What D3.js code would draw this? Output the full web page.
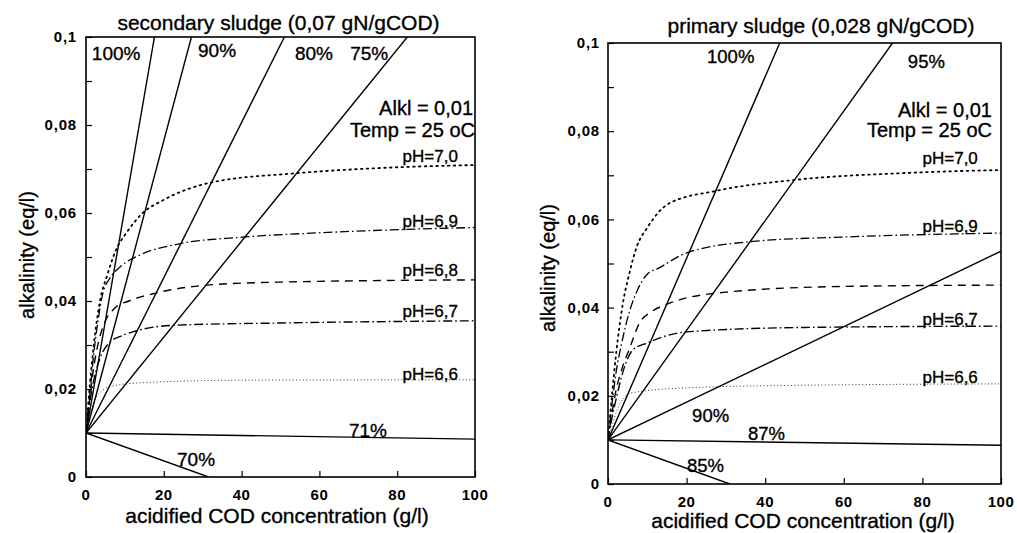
<!DOCTYPE html>
<html>
<head>
<meta charset="utf-8">
<script src="https://cdn.jsdelivr.net/npm/d3@7"></script>
<style>
  html, body { margin: 0; padding: 0; background: #fff; }
  svg text { font-family: "Liberation Sans", Arial, Helvetica, sans-serif; fill: #000; stroke: #000; stroke-width: 0.35px; }
  svg text.tick { stroke-width: 0; }
</style>
</head>
<body>
<svg id="chart" width="1017" height="533"></svg>
<script>
// ---------------- DATA ----------------
const xTicks = [0, 20, 40, 60, 80, 100];
const yTicksMajor = [0, 0.02, 0.04, 0.06, 0.08, 0.1];
const yTicksMinor = [0.01, 0.03, 0.05, 0.07, 0.09];
const yTickLabels = ["0", "0,02", "0,04", "0,06", "0,08", "0,1"];
const xTickLabels = ["0", "20", "40", "60", "80", "100"];

const titles = ["secondary sludge (0,07 gN/gCOD)", "primary sludge (0,028 gN/gCOD)"];
const xTitle = "acidified COD concentration (g/l)";
const yTitle = "alkalinity (eq/l)";
const infoLines = ["Alkl = 0,01", "Temp = 25 oC"];

// conversion lines (secondary sludge)
const secLineNames = ["100%", "90%", "80%", "75%", "71%", "70%"];
const secLineEnds = [[17.6, 0.1], [27.1, 0.1], [51, 0.1], [82.6, 0.1], [100, 0.0086], [31.5, 0]];
// conversion lines (primary sludge)
const priLineNames = ["100%", "95%", "90%", "87%", "85%"];
const priLineEnds = [[43.7, 0.1], [72.4, 0.1], [100, 0.0528], [100, 0.0088], [31, 0]];
const lineStart = [0, 0.01];

// pH curves
const pHNames = ["pH=7,0", "pH=6,9", "pH=6,8", "pH=6,7", "pH=6,6"];
const secPH70 = [[0,0.01],[1,0.021],[2,0.030],[3.6,0.040],[5.5,0.046],[7.9,0.052],[10,0.055],[14.6,0.060],[20,0.063],[32.5,0.067],[53.5,0.069],[75,0.0702],[100,0.0709]];
const secPH69 = [[0,0.01],[1,0.019],[2,0.028],[3,0.035],[4.4,0.042],[6,0.045],[8.7,0.0477],[14,0.0505],[24,0.053],[40,0.0545],[60,0.0555],[91,0.0565],[100,0.0567]];
const secPH68 = [[0,0.01],[1,0.018],[2,0.025],[3.6,0.032],[5,0.0355],[7.4,0.0384],[11,0.040],[17,0.0416],[31,0.0436],[50,0.0443],[100,0.0448]];
const secPH67 = [[0,0.01],[1,0.017],[2,0.022],[3.6,0.027],[6,0.0305],[9,0.032],[12,0.033],[23,0.0345],[50,0.035],[100,0.0355]];
const secPH66 = [[0,0.01],[1,0.014],[2,0.017],[4,0.0195],[6,0.0205],[14,0.0214],[40,0.022],[100,0.0221]];

const priPH70 = [[0,0.01],[1,0.02],[2,0.029],[3.8,0.041],[5.5,0.048],[7.4,0.054],[9.9,0.058],[15.7,0.0637],[27.7,0.0665],[48,0.069],[75,0.0705],[100,0.0712]];
const priPH69 = [[0,0.01],[1,0.018],[2,0.025],[3.5,0.032],[5.6,0.0395],[7.5,0.044],[9.9,0.0475],[13,0.049],[20,0.0524],[36.8,0.055],[60,0.056],[100,0.0569]];
const priPH68 = [[0,0.01],[1,0.016],[2,0.021],[3.5,0.026],[5.6,0.031],[8,0.0365],[11,0.039],[15.7,0.041],[30,0.0435],[60,0.0448],[100,0.0451]];
const priPH67 = [[0,0.01],[1,0.015],[2,0.019],[4,0.026],[6.3,0.0304],[10,0.032],[20,0.0345],[50,0.0355],[100,0.0358]];
const priPH66 = [[0,0.01],[1,0.013],[2,0.016],[4,0.0195],[5.6,0.0206],[20,0.0218],[50,0.0224],[100,0.0227]];

// ---------------- LAYOUT ----------------
const dashStyles = [
  { dash: "1.6,4.2", width: 1.8, cap: "round" },
  { dash: "9,3,1.6,3", width: 1.3, cap: "butt" },
  { dash: "8,6", width: 1.4, cap: "butt" },
  { dash: "9,3,1.6,3", width: 1.4, cap: "butt" },
  { dash: "1,2.4", width: 1.0, cap: "butt" }
];

const panels = [
  {
    frame: { x0: 86, x1: 475, y0: 477, y1: 37 },
    title: titles[0], titlePos: [278.5, 30],
    yTitlePos: [27, 255], xTitlePos: [277, 523],
    xTickBaseline: 500, yTickRight: 77,
    convNames: secLineNames, convEnds: secLineEnds,
    convLabelPos: [[1.5, 0.0948], [28.8, 0.0955], [53.7, 0.0948], [67.9, 0.0948], [67.6, 0.0091], [23.4, 0.0025]],
    curves: [secPH70, secPH69, secPH68, secPH67, secPH66],
    pHLabelIdx: [0, 1, 2, 3, 4],
    pHLabelPos: [[95.6, 0.0716], [95.6, 0.0568], [95.6, 0.0457], [95.6, 0.0364], [95.6, 0.0220]],
    infoPos: [[99.5, 0.0823], [100, 0.0773]],
    pctSize: 19
  },
  {
    frame: { x0: 608, x1: 1001, y0: 484, y1: 43 },
    title: titles[1], titlePos: [821, 33],
    yTitlePos: [548, 268], xTitlePos: [803, 528],
    xTickBaseline: 507, yTickRight: 600,
    convNames: priLineNames, convEnds: priLineEnds,
    convLabelPos: [[25.2, 0.0955], [76.3, 0.0943], [21.4, 0.0141], [35.6, 0.0100], [20.1, 0.0027]],
    curves: [priPH70, priPH69, priPH68, priPH67, priPH66],
    pHLabelIdx: [0, 1, 3, 4],
    pHLabelPos: [[94.1, 0.0726], [94.1, 0.0571], null, [94.1, 0.0360], [94.1, 0.0229]],
    infoPos: [[97.7, 0.0832], [97.7, 0.0787]],
    pctSize: 18.5
  }
];

const svg = d3.select("#chart");

panels.forEach((p, pi) => {
  const f = p.frame;
  const x = d3.scaleLinear().domain([0, 100]).range([f.x0, f.x1]);
  const y = d3.scaleLinear().domain([0, 0.1]).range([f.y0, f.y1]);
  const g = svg.append("g");

  const clipId = "clip" + pi;
  svg.append("clipPath").attr("id", clipId)
    .append("rect").attr("x", f.x0).attr("y", f.y1)
    .attr("width", f.x1 - f.x0).attr("height", f.y0 - f.y1);

  const plot = g.append("g").attr("clip-path", `url(#${clipId})`);
  const line = d3.line().x(d => x(d[0])).y(d => y(d[1]));
  const smooth = d3.line().x(d => x(d[0])).y(d => y(d[1])).curve(d3.curveMonotoneX);

  // pH curves
  p.curves.forEach((c, i) => {
    const s = dashStyles[i];
    plot.append("path").datum(c)
      .attr("d", smooth)
      .attr("fill", "none")
      .attr("stroke", i === 4 ? "#333" : "#000")
      .attr("stroke-width", s.width)
      .attr("stroke-dasharray", s.dash)
      .attr("stroke-linecap", s.cap);
  });

  // conversion lines
  p.convEnds.forEach(e => {
    plot.append("path").datum([lineStart, e])
      .attr("d", line)
      .attr("fill", "none")
      .attr("stroke", "#000")
      .attr("stroke-width", 1.4);
  });

  // axes (ticks inward)
  const xAxis = d3.axisBottom(x).tickValues(xTicks).tickSize(-6).tickFormat("");
  g.append("g").attr("transform", `translate(0,${f.y0})`).call(xAxis)
    .call(a => a.select(".domain").remove())
    .call(a => a.selectAll("line").attr("stroke", "#000").attr("stroke-width", 1.2));
  const yAxis = d3.axisLeft(y).tickValues(yTicksMajor.concat(yTicksMinor)).tickSize(-6).tickFormat("");
  g.append("g").attr("transform", `translate(${f.x0},0)`).call(yAxis)
    .call(a => a.select(".domain").remove())
    .call(a => a.selectAll("line").attr("stroke", "#000").attr("stroke-width", 1.2));

  // frame
  g.append("rect")
    .attr("x", f.x0).attr("y", f.y1)
    .attr("width", f.x1 - f.x0).attr("height", f.y0 - f.y1)
    .attr("fill", "none").attr("stroke", "#000").attr("stroke-width", 1.6);

  // tick labels
  g.selectAll(".xt").data(xTicks).enter().append("text")
    .attr("class", "tick")
    .attr("x", d => x(d)).attr("y", p.xTickBaseline)
    .attr("text-anchor", "middle")
    .style("font-size", "15px").style("font-weight", "bold")
    .style("letter-spacing", "0.5px")
    .text((d, i) => xTickLabels[i]);
  g.selectAll(".yt").data(yTicksMajor).enter().append("text")
    .attr("class", "tick")
    .attr("x", p.yTickRight).attr("y", d => y(d))
    .attr("dy", "0.35em")
    .attr("text-anchor", "end")
    .style("font-size", "15px").style("font-weight", "bold")
    .style("letter-spacing", "0.8px")
    .text((d, i) => yTickLabels[i]);

  // titles
  g.append("text").attr("x", p.titlePos[0]).attr("y", p.titlePos[1])
    .attr("text-anchor", "middle").style("font-size", "21px").text(p.title);
  g.append("text").attr("x", p.xTitlePos[0]).attr("y", p.xTitlePos[1])
    .attr("text-anchor", "middle").style("font-size", "21px").text(xTitle);
  g.append("text")
    .attr("transform", `translate(${p.yTitlePos[0] + 7},${p.yTitlePos[1]}) rotate(-90)`)
    .attr("text-anchor", "middle").style("font-size", "20px").text(yTitle);

  // conversion labels
  p.convNames.forEach((n, i) => {
    const pos = p.convLabelPos[i];
    g.append("text").attr("x", x(pos[0])).attr("y", y(pos[1]))
      .style("font-size", p.pctSize + "px").text(n);
  });

  // info
  infoLines.forEach((t, i) => {
    const pos = p.infoPos[i];
    g.append("text").attr("x", x(pos[0])).attr("y", y(pos[1]))
      .attr("text-anchor", "end").style("font-size", "20px").text(t);
  });

  // pH labels
  p.pHLabelIdx.forEach(i => {
    const pos = p.pHLabelPos[i];
    g.append("text").attr("x", x(pos[0])).attr("y", y(pos[1]))
      .attr("text-anchor", "end").style("font-size", "17px").text(pHNames[i]);
  });
});
</script>
</body>
</html>
